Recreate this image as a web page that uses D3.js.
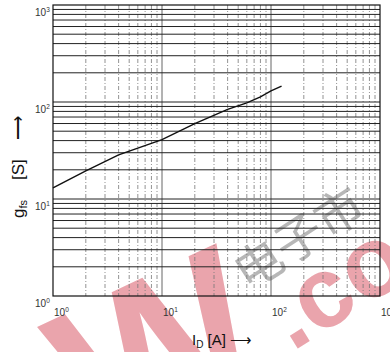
<!DOCTYPE html>
<html>
<head>
<meta charset="utf-8">
<script src="https://cdn.jsdelivr.net/npm/d3@7"></script>
<style>
  html, body { margin: 0; padding: 0; background: #fff; }
  svg { display: block; font-family: "Liberation Sans", Arial, sans-serif; }
</style>
</head>
<body>
<div class="wrap"></div>
<script>
// drain current (A) vs forward transconductance (S)
const currentA = [1, 2, 4, 10, 20, 40, 60, 80, 100, 125];
const gfsS = [13, 19.5, 28.5, 41, 60, 84, 98, 113, 130, 146];
const decadeTicks = [1, 10, 100, 1000];
const tickExp = ["0", "1", "2", "3"];

const W = 390, H = 352;
const svg = d3.select(".wrap").append("svg")
  .attr("width", W).attr("height", H)
  .attr("viewBox", [0, 0, W, H]);

// watermark (behind the chart)
const wm = svg.append("g").attr("fill", "#eaa4ac");
wm.append("text").text("W")
  .attr("font-size", 210).attr("font-weight", "bold")
  .attr("transform", "translate(98,458) rotate(-25)");
wm.append("text").text(".co")
  .attr("font-size", 100).attr("font-weight", "bold")
  .attr("transform", "translate(292,352) rotate(-32)");
svg.append("text").text("电子市")
  .attr("font-family", "Noto Sans CJK SC").attr("font-size", 48)
  .attr("fill", "#999").attr("opacity", 0.7)
  .attr("transform", "translate(248,292) rotate(-33)");

const x = d3.scaleLog().domain([1, 1000]).range([53, 380]);
const y = d3.scaleLog().domain([1, 1000]).range([296, 5]);

// minor values 2..9 in each decade
const minors = [];
decadeTicks.slice(0, 3).forEach(d => { for (let k = 2; k <= 9; k++) minors.push(d * k); });

// vertical grid: dashed minors, solid decades
svg.append("g").selectAll("line").data(minors).join("line")
  .attr("x1", d => x(d)).attr("x2", d => x(d))
  .attr("y1", y(1000)).attr("y2", y(1))
  .attr("stroke", "#777").attr("stroke-width", 0.8)
  .attr("stroke-dasharray", "4,2,1,2");
svg.append("g").selectAll("line").data([10, 100]).join("line")
  .attr("x1", d => x(d)).attr("x2", d => x(d))
  .attr("y1", y(1000)).attr("y2", y(1))
  .attr("stroke", "#555").attr("stroke-width", 0.9);

// horizontal grid: solid lines at every value
svg.append("g").selectAll("line").data(minors.concat([10, 100])).join("line")
  .attr("x1", x(1)).attr("x2", x(1000))
  .attr("y1", d => y(d)).attr("y2", d => y(d))
  .attr("stroke", "#222").attr("stroke-width", 1);

// frame
svg.append("rect")
  .attr("x", x(1)).attr("y", y(1000))
  .attr("width", x(1000) - x(1)).attr("height", y(1) - y(1000))
  .attr("fill", "none").attr("stroke", "#111").attr("stroke-width", 1.2);

// curve
svg.append("path")
  .datum(currentA.map((c, i) => [c, gfsS[i]]))
  .attr("fill", "none").attr("stroke", "#111").attr("stroke-width", 1.4)
  .attr("d", d3.line().x(d => x(d[0])).y(d => y(d[1])));

// tick labels
const xl = svg.append("g").attr("fill", "#333").attr("font-size", 10);
decadeTicks.forEach((d, i) => {
  const t = xl.append("text").attr("x", x(d) + 1).attr("y", 316);
  t.append("tspan").text("10");
  t.append("tspan").text(tickExp[i]).attr("font-size", 6.5).attr("dy", -4);
});
const yl = svg.append("g").attr("fill", "#333").attr("font-size", 10);
decadeTicks.forEach((d, i) => {
  const t = yl.append("text").attr("x", 35).attr("y", y(d) + 11);
  t.append("tspan").text("10");
  t.append("tspan").text(tickExp[i]).attr("font-size", 6.5).attr("dy", -4);
});

// axis titles
const xt = svg.append("text").attr("x", 192).attr("y", 345)
  .attr("font-size", 15).attr("fill", "#111");
xt.append("tspan").text("I");
xt.append("tspan").text("D").attr("font-size", 10).attr("dy", 3);
xt.append("tspan").text(" [A]  \u27F6").attr("dy", -3);

const yt = svg.append("text")
  .attr("transform", "translate(24,218) rotate(-90)")
  .attr("font-size", 17).attr("fill", "#111");
yt.append("tspan").text("g");
yt.append("tspan").text("fs").attr("font-size", 11).attr("dy", 3);
yt.append("tspan").text("[S]").attr("x", 38).attr("dy", -3);
yt.append("tspan").text("\u27F6").attr("x", 78);
</script>
</body>
</html>
